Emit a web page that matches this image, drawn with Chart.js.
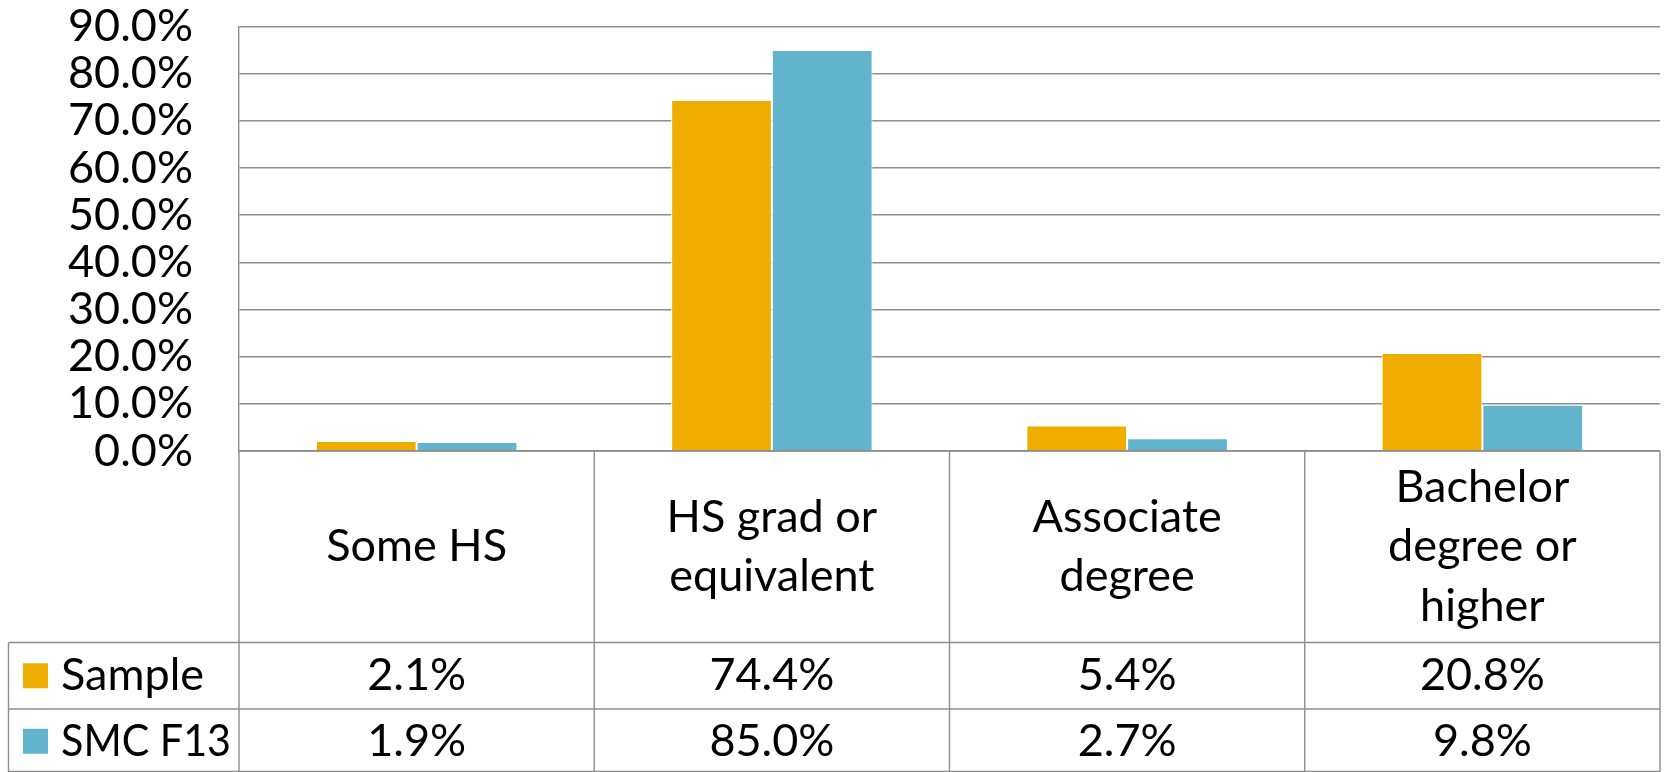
<!DOCTYPE html>
<html>
<head>
<meta charset="utf-8">
<script src="https://cdn.jsdelivr.net/npm/chart.js@4/dist/chart.umd.min.js"></script>
<style>
  html, body { margin: 0; padding: 0; background: #fff; }
  #wrap { width: 1665px; height: 772px; position: relative; }
</style>
</head>
<body>
<div id="wrap"><canvas id="c" width="1665" height="772"></canvas></div>
<script>
const categories = [['Some HS'], ['HS grad or', 'equivalent'], ['Associate', 'degree'], ['Bachelor', 'degree or', 'higher']];
const seriesNames = ['Sample', 'SMC F13'];
const sampleValues = [2.1, 74.4, 5.4, 20.8];
const smcValues = [1.9, 85.0, 2.7, 9.8];
const yMin = 0, yMax = 90, yStep = 10;

const ORANGE = '#EFAD00';
const BLUE = '#62B3CC';
const GRID = '#8E8E8E';
const FONT = 'Lato';
const FSIZE = 45;

const tablePlugin = {
  id: 'dataTable',
  afterDraw(chart) {
    const ctx = chart.ctx;
    const a = chart.chartArea;
    const xs = chart.scales.x;
    const n = categories.length;
    const cw = (a.right - a.left) / n;
    const headBottom = a.bottom + 191.5;
    const row1Bottom = headBottom + 66.5;
    const row2Bottom = chart.height - 0.5;
    const legLeft = 8.5;
    ctx.save();
    ctx.strokeStyle = GRID;
    ctx.lineWidth = 1.4;
    ctx.beginPath();
    for (let i = 0; i <= n; i++) {
      const x = a.left + i * cw;
      ctx.moveTo(x, a.bottom);
      ctx.lineTo(x, row2Bottom + 1);
    }
    ctx.moveTo(legLeft, headBottom);
    ctx.lineTo(legLeft, row2Bottom + 1);
    ctx.moveTo(a.left, a.bottom);
    ctx.lineTo(a.right, a.bottom);
    [headBottom, row1Bottom, row2Bottom].forEach(y => {
      ctx.moveTo(legLeft, y);
      ctx.lineTo(a.right, y);
    });
    ctx.stroke();

    ctx.fillStyle = '#000';
    ctx.font = FSIZE + 'px ' + FONT;
    ctx.textAlign = 'center';
    ctx.textBaseline = 'middle';
    const lh = 59.5;
    categories.forEach((lines, i) => {
      const cx = xs.getPixelForValue(i);
      const cy = (a.bottom + headBottom) / 2;
      const top = cy - (lines.length - 1) * lh / 2;
      lines.forEach((t, j) => ctx.fillText(t, cx, top + j * lh));
    });
    const rows = [sampleValues, smcValues];
    const rowCenters = [(headBottom + row1Bottom) / 2, (row1Bottom + row2Bottom) / 2 + 1];
    rows.forEach((vals, r) => {
      vals.forEach((v, i) => {
        ctx.fillText(v.toFixed(1) + '%', xs.getPixelForValue(i), rowCenters[r]);
      });
    });
    const colors = [ORANGE, BLUE];
    ctx.textAlign = 'left';
    seriesNames.forEach((name, r) => {
      const cy = rowCenters[r];
      ctx.fillStyle = colors[r];
      ctx.fillRect(23, cy - 12.5, 25, 25);
      ctx.fillStyle = '#000';
      ctx.fillText(name, 61, cy, 170);
    });
    ctx.restore();
  }
};

new Chart(document.getElementById('c'), {
  type: 'bar',
  data: {
    labels: categories.map(c => c.join(' ')),
    datasets: [
      { label: seriesNames[0], data: sampleValues, backgroundColor: ORANGE, borderColor: '#ffffff', borderWidth: 1, borderSkipped: 'bottom' },
      { label: seriesNames[1], data: smcValues, backgroundColor: BLUE, borderColor: '#ffffff', borderWidth: 1, borderSkipped: 'bottom' }
    ]
  },
  options: {
    responsive: false,
    animation: false,
    devicePixelRatio: 1,
    layout: { padding: { top: 26.5, right: 5, bottom: 321, left: 0 } },
    plugins: { legend: { display: false }, tooltip: { enabled: false } },
    datasets: { bar: { categoryPercentage: 0.567, barPercentage: 1.0 } },
    scales: {
      x: { display: false },
      y: {
        min: yMin, max: yMax,
        afterFit(scale) { scale.width = 239; scale.paddingTop = 0; scale.paddingBottom = 0; },
        border: { display: true, color: GRID, width: 1.4 },
        grid: { color: GRID, lineWidth: 1.4, drawTicks: false },
        ticks: {
          stepSize: yStep,
          autoSkip: false,
          padding: 46,
          color: '#000',
          font: { family: FONT, size: FSIZE, lineHeight: 1 },
          callback: v => v.toFixed(1) + '%'
        }
      }
    }
  },
  plugins: [tablePlugin]
});
</script>
</body>
</html>
